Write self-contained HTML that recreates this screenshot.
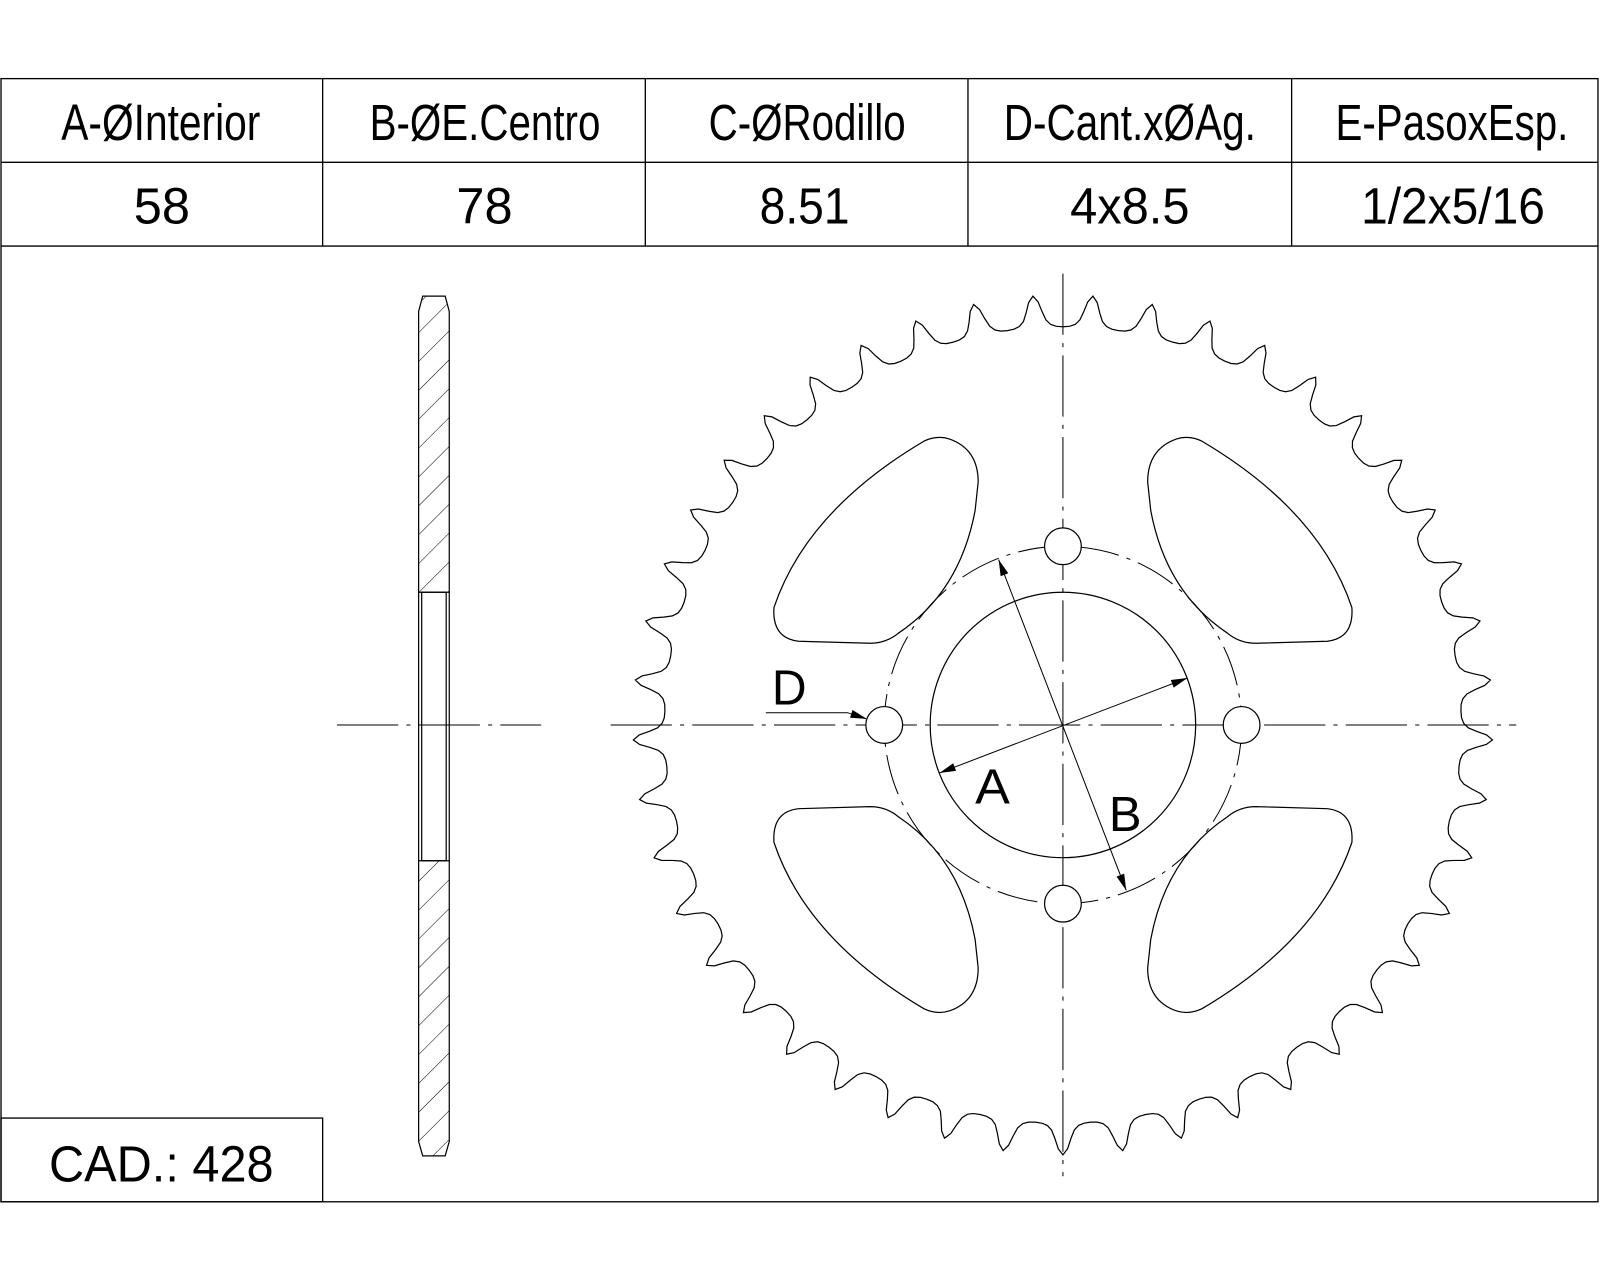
<!DOCTYPE html>
<html><head><meta charset="utf-8"><style>
html,body{margin:0;padding:0;background:#fff}
svg{display:block}
text{font-family:"Liberation Sans",sans-serif;fill:#000}
</style></head><body>
<svg id="s" width="1600" height="1280" viewBox="0 0 1567 1253.6" preserveAspectRatio="none">
<defs>
<pattern id="hatch" patternUnits="userSpaceOnUse" width="20" height="20" patternTransform="rotate(45)">
<line x1="0" y1="0" x2="0" y2="20" stroke="#000" stroke-width="1"/>
</pattern>
<path id="lobe" d="M930 430 Q958 440 958 472 L955 500 Q940 580 880 620 Q868 630 852 630 L782 628 Q756 625 758 595 Q790 500 905 432 Q918 426 930 430 Z" fill="none" stroke="#000" stroke-width="1.2"/>
</defs>
<g stroke="#000" stroke-width="1.3" fill="none">
<rect x="1" y="77" width="1564" height="1100"/>
<line x1="1" y1="159" x2="1565" y2="159"/>
<line x1="1" y1="241" x2="1565" y2="241"/>
<line x1="316" y1="77" x2="316" y2="241"/>
<line x1="632" y1="77" x2="632" y2="241"/>
<line x1="948" y1="77" x2="948" y2="241"/>
<line x1="1265" y1="77" x2="1265" y2="241"/>
<rect x="1" y="1095" width="315" height="82"/>
</g>
<g font-size="50" lengthAdjust="spacingAndGlyphs">
<text x="60" y="137" textLength="195" lengthAdjust="spacingAndGlyphs">A-ØInterior</text>
<text x="362" y="137" textLength="226" lengthAdjust="spacingAndGlyphs">B-ØE.Centro</text>
<text x="694" y="137" textLength="193" lengthAdjust="spacingAndGlyphs">C-ØRodillo</text>
<text x="983" y="137" textLength="247" lengthAdjust="spacingAndGlyphs">D-Cant.xØAg.</text>
<text x="1308" y="137" textLength="228" lengthAdjust="spacingAndGlyphs">E-PasoxEsp.</text>
<text x="131" y="219" textLength="55" lengthAdjust="spacingAndGlyphs">58</text>
<text x="447" y="219" textLength="55" lengthAdjust="spacingAndGlyphs">78</text>
<text x="744" y="219" textLength="88" lengthAdjust="spacingAndGlyphs">8.51</text>
<text x="1048" y="219" textLength="117" lengthAdjust="spacingAndGlyphs">4x8.5</text>
<text x="1333" y="219" textLength="180" lengthAdjust="spacingAndGlyphs">1/2x5/16</text>
<text x="48" y="1157" textLength="220" lengthAdjust="spacingAndGlyphs">CAD.: 428</text>
</g>
<g stroke="#000" stroke-width="1.2">
<path d="M410 305 L414 290 L436 290 L440 305 L440 580 L410 580 Z" fill="url(#hatch)"/>
<path d="M410 843 L440 843 L440 1118 L436 1132 L414 1132 L410 1118 Z" fill="url(#hatch)"/>
<line x1="410" y1="580" x2="410" y2="843"/>
<line x1="440" y1="580" x2="440" y2="843"/>
<rect x="413" y="580" width="24" height="263" fill="none"/>
<line x1="330" y1="710" x2="530" y2="710" stroke-width="1" stroke-dasharray="60,8,4,8"/>
</g>
<g id="front"></g>
<g font-size="48">
<text x="756" y="690" textLength="34" lengthAdjust="spacingAndGlyphs">D</text>
<text x="955" y="787" textLength="34" lengthAdjust="spacingAndGlyphs">A</text>
<text x="1086" y="814" textLength="32" lengthAdjust="spacingAndGlyphs">B</text>
</g>
</svg>
<script>
const ns="http://www.w3.org/2000/svg";
const g=document.getElementById('front');
const cx=1041, cy=710;
const teeth=45, tipR=421, rootR=390;
const boltR=175, holeR=18, boreR=130;
function el(t,a){const e=document.createElementNS(ns,t);for(const k in a)e.setAttribute(k,a[k]);g.appendChild(e);return e;}
const th=2*Math.PI/teeth;
const prof=[[0,rootR],[0.12,rootR+0.5],[0.22,rootR+2.5],[0.3,rootR+7],[0.36,rootR+15],[0.42,rootR+25],[0.5,tipR]];
let pts=[];
for(let i=0;i<teeth;i++){
  const base=-Math.PI/2+i*th;
  for(let j=0;j<prof.length;j++){const a=base+prof[j][0]*th;pts.push([cx+prof[j][1]*Math.cos(a),cy+prof[j][1]*Math.sin(a)]);}
  for(let j=prof.length-2;j>0;j--){const a=base+(1-prof[j][0])*th;pts.push([cx+prof[j][1]*Math.cos(a),cy+prof[j][1]*Math.sin(a)]);}
}
const outline=el('path',{d:'M'+pts.map(p=>p[0].toFixed(1)+' '+p[1].toFixed(1)).join('L')+'Z',fill:'none',stroke:'#000','stroke-width':1.2});


const hl=el('line',{x1:598,y1:cy,x2:1485,y2:cy,stroke:'#000','stroke-width':1,'stroke-dasharray':'60,8,4,8'});


const vl=el('line',{x1:cx,y1:268,x2:cx,y2:1152,stroke:'#000','stroke-width':1,'stroke-dasharray':'60,8,4,8'});


const bc=el('circle',{cx:cx,cy:cy,r:boltR,fill:'none',stroke:'#000','stroke-width':1,'stroke-dasharray':'40,8,4,8'});


const bore=el('circle',{cx:cx,cy:cy,r:boreR,fill:'none',stroke:'#000','stroke-width':1.2});


for(let k=0;k<4;k++){const a=k*Math.PI/2;
  const h=el('circle',{cx:cx+boltR*Math.cos(a),cy:cy+boltR*Math.sin(a),r:holeR,fill:'#fff',stroke:'#000','stroke-width':1.2});
  
  
}
const tr=['', `translate(${2*cx},0) scale(-1,1)`, `translate(0,${2*cy}) scale(1,-1)`, `translate(${2*cx},${2*cy}) scale(-1,-1)`];
tr.forEach(t=>{const u=el('use',{href:'#lobe',transform:t});
  
  });
function arrow(x1,y1,x2,y2,name){
  const l=el('line',{x1,y1,x2,y2,stroke:'#000','stroke-width':1});
  
  
}
function head(x,y,fx,fy){const dx=x-fx,dy=y-fy,L=Math.hypot(dx,dy),ux=dx/L,uy=dy/L,s=16,w=4;
  el('path',{d:`M${x} ${y} L${x-ux*s-uy*w} ${y-uy*s+ux*w} L${x-ux*s+uy*w} ${y-uy*s-ux*w}Z`,fill:'#000'});}
arrow(920,757,1163,664,'dimension-a');head(920,757,1163,664);head(1163,664,920,757);
arrow(978,548,1103,872,'dimension-b');head(978,548,1103,872);head(1103,872,978,548);
const dl=el('path',{d:'M750 698 L830 698 L848 704',fill:'none',stroke:'#000','stroke-width':1});


head(849,704,830,698);
</script>
</body></html>
